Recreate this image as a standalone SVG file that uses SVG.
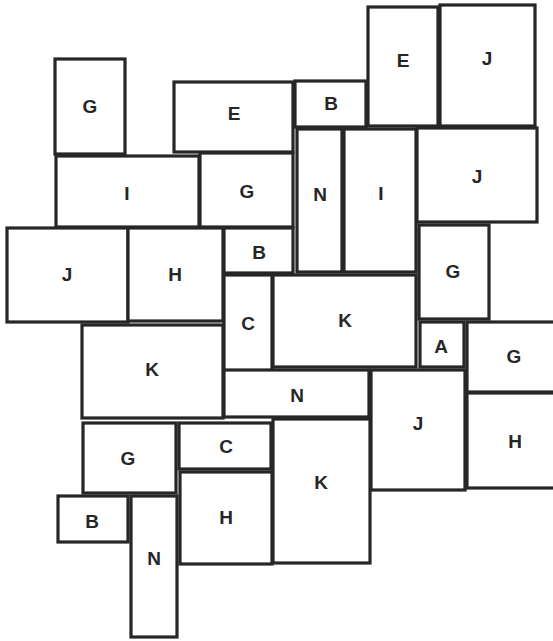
<svg xmlns="http://www.w3.org/2000/svg" width="553" height="641" viewBox="0 0 553 641">
<style>
rect{fill:#fff;stroke:#262626;stroke-width:3.2}
text{font-family:"Liberation Sans",Arial,sans-serif;font-weight:bold;font-size:19px;fill:#262626;text-anchor:middle}
</style>
<rect x="0" y="0" width="553" height="641" style="stroke:none"/>
<g id="G1"><rect x="55" y="59" width="70" height="95"/><text x="90" y="113">G</text></g>
<g id="E1"><rect x="174" y="82" width="119" height="70"/><text x="234" y="120">E</text></g>
<g id="B1"><rect x="295" y="81" width="71" height="46"/><text x="331" y="110">B</text></g>
<g id="E2"><rect x="368" y="7" width="70" height="119"/><text x="403" y="67">E</text></g>
<g id="J1"><rect x="440" y="5" width="95" height="121"/><text x="487" y="65">J</text></g>
<g id="I1"><rect x="56" y="156" width="143" height="71"/><text x="127" y="200">I</text></g>
<g id="G2"><rect x="200" y="153" width="93" height="74"/><text x="247" y="198">G</text></g>
<g id="N1"><rect x="297" y="129" width="45" height="143"/><text x="320" y="201">N</text></g>
<g id="I2"><rect x="344" y="129" width="72" height="143"/><text x="381" y="200">I</text></g>
<g id="J2"><rect x="417" y="128" width="120" height="94"/><text x="477" y="183">J</text></g>
<g id="J3"><rect x="7" y="228" width="121" height="94"/><text x="67" y="281">J</text></g>
<g id="H1"><rect x="128" y="228" width="95" height="93"/><text x="175" y="281">H</text></g>
<g id="B2"><rect x="224" y="228" width="69" height="45"/><text x="259" y="259">B</text></g>
<g id="G3"><rect x="419" y="225" width="70" height="94"/><text x="453" y="278">G</text></g>
<g id="C1"><rect x="224" y="275" width="48" height="97"/><text x="248" y="330">C</text></g>
<g id="K1"><rect x="273" y="275" width="143" height="92"/><text x="345" y="327">K</text></g>
<g id="K2"><rect x="82" y="325" width="141" height="93"/><text x="152" y="376">K</text></g>
<g id="A"><rect x="420" y="322" width="44" height="45"/><text x="441" y="353">A</text></g>
<g id="G4"><rect x="467" y="322" width="92" height="70"/><text x="514" y="363">G</text></g>
<g id="N2"><rect x="224" y="370" width="145" height="47"/><text x="297" y="402">N</text></g>
<g id="J4"><rect x="371" y="370" width="94" height="120"/><text x="418" y="430">J</text></g>
<g id="H2"><rect x="467" y="393" width="92" height="95"/><text x="515" y="448">H</text></g>
<g id="G5"><rect x="83" y="423" width="93" height="70"/><text x="128" y="465">G</text></g>
<g id="C2"><rect x="179" y="423" width="92" height="46"/><text x="226" y="453">C</text></g>
<g id="H3"><rect x="180" y="472" width="92" height="92"/><text x="226" y="524">H</text></g>
<g id="K3"><rect x="273" y="419" width="97" height="144"/><text x="321" y="489">K</text></g>
<g id="B3"><rect x="58" y="496" width="70" height="46"/><text x="92" y="528">B</text></g>
<g id="N3"><rect x="131" y="496" width="46" height="141"/><text x="154" y="565">N</text></g>
<g id="connectors"></g>
</svg>
